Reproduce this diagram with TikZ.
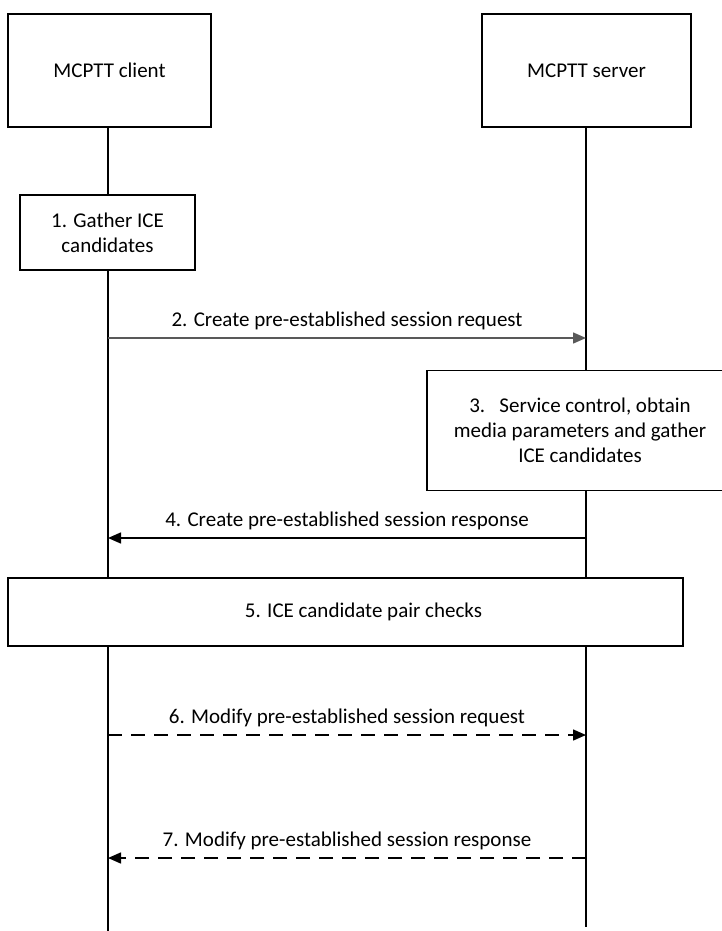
\documentclass[tikz,border=0pt]{standalone}
\usepackage{fontspec}
\setmainfont{Carlito}
\usetikzlibrary{arrows.meta}

\begin{document}
\begin{tikzpicture}[x=1pt,y=-1pt]
		\tikzstyle{every node}=[font=\fontsize{21pt}{25pt}\selectfont]
		\tikzstyle{entity}=[draw, line width=1.5pt, fill=white, align=center]
		\tikzstyle{lifeline}=[line width=1.5pt]
		\tikzstyle{msg}=[line width=1.5pt, -{Triangle[length=13pt,width=11pt]}]
		\tikzstyle{msglabel}=[above, inner sep=7pt]
		
		\useasboundingbox (0,0) rectangle (722,931);
		
		% lifelines
		\coordinate (clientend) at (108,931);
		\coordinate (serverend) at (586,927);
		\draw[lifeline] (108,70) -- (clientend);
		\draw[lifeline] (586,70) -- (serverend);
		
		% entities
		\node[entity, minimum width=203, minimum height=113] (client) at (109.5,70.5) {MCPTT client};
		\node[entity, minimum width=209, minimum height=113] (server) at (586.5,70.5) {MCPTT server};
		
		% steps
		\node[entity, minimum width=175, minimum height=75] (gather) at (107.5,232.5) {1. Gather ICE\\candidates};
		\node[entity, minimum width=306, minimum height=120] (control) at (580,430.5) {3.\ \ \ Service control, obtain\\media parameters and gather\\ICE candidates};
		\node[entity, minimum width=675, minimum height=68] (checks) at (345.5,612) {\hspace*{36pt}5. ICE candidate pair checks};
		
		% messages
		\coordinate (c2) at (108,338);
		\coordinate (s2) at (586,338);
		\coordinate (c4) at (108,538);
		\coordinate (s4) at (586,538);
		\coordinate (c6) at (108,735);
		\coordinate (s6) at (586,735);
		\coordinate (c7) at (108,858);
		\coordinate (s7) at (586,858);
		
		\draw[msg, color=black!65] (c2) -- (s2)
		node[msglabel, pos=0.5, text=black]{2. Create pre-established session request};
		
		\draw[msg] (s4) -- (c4)
		node[msglabel, pos=0.5]{4. Create pre-established session response};
		
		\draw[msg, dash pattern=on 14pt off 9pt] (c6) -- (s6)
		node[msglabel, pos=0.5]{6. Modify pre-established session request};
		
		\draw[msg, dash pattern=on 14pt off 9pt] (s7) -- (c7)
		node[msglabel, pos=0.5]{7. Modify pre-established session response};
		
	\end{tikzpicture}
\end{document}
